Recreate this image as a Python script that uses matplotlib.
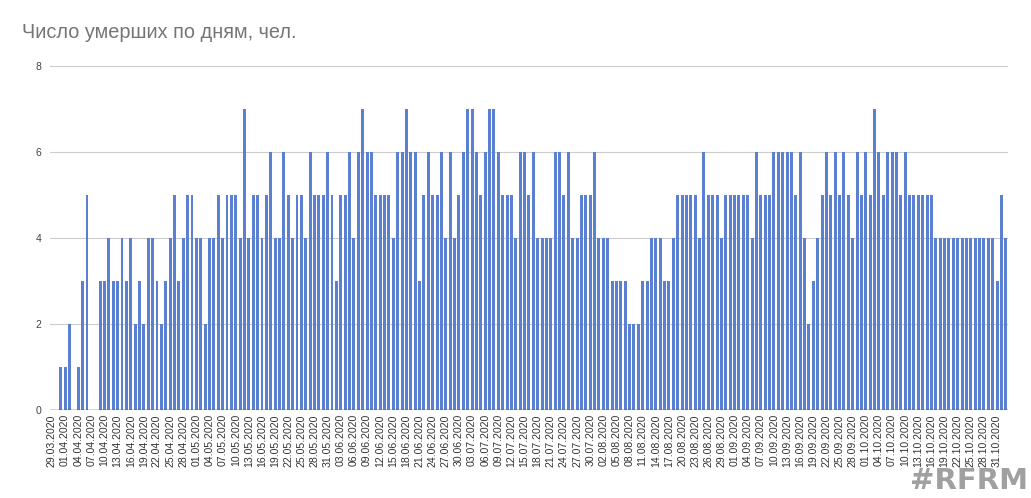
import matplotlib
matplotlib.use("Agg")
import matplotlib.pyplot as plt
import numpy as np
import datetime as dt

plt.rcParams['font.family'] = ['Liberation Sans', 'DejaVu Sans']

start = dt.date(2020, 3, 29)
n_days = 219
dates = [start + dt.timedelta(days=i) for i in range(n_days)]
date_labels = [d.strftime("%d.%m.%Y") for d in dates]

deaths = [
    0, 0, 1, 1, 2, 0, 1, 3, 5, 0, 0,            # 29.03 - 08.04
    3, 3, 4, 3, 3, 4, 3, 4, 2, 3,               # 09.04 - 18.04
    2, 4, 4, 3, 2, 3, 4, 5, 3, 4,               # 19.04 - 28.04
    5, 5, 4, 4, 2, 4, 4, 5, 4, 5,               # 29.04 - 08.05
    5, 5, 4, 7, 4, 5, 5, 4, 5, 6,               # 09.05 - 18.05
    4, 4, 6, 5, 4, 5, 5, 4, 6, 5,               # 19.05 - 28.05
    5, 5, 6, 5, 3, 5, 5, 6, 4, 6,               # 29.05 - 07.06
    7, 6, 6, 5, 5, 5, 5, 4, 6, 6,               # 08.06 - 17.06
    7, 6, 6, 3, 5, 6, 5, 5, 6, 4,               # 18.06 - 27.06
    6, 4, 5, 6, 7, 7, 6, 5, 6, 7,               # 28.06 - 07.07
    7, 6, 5, 5, 5, 4, 6, 6, 5, 6,               # 08.07 - 17.07
    4, 4, 4, 4, 6, 6, 5, 6, 4, 4,               # 18.07 - 27.07
    5, 5, 5, 6, 4, 4, 4, 3, 3, 3,               # 28.07 - 06.08
    3, 2, 2, 2, 3, 3, 4, 4, 4, 3,               # 07.08 - 16.08
    3, 4, 5, 5, 5, 5, 5, 4, 6, 5,               # 17.08 - 26.08
    5, 5, 4, 5, 5, 5, 5, 5, 5, 4,               # 27.08 - 05.09
    6, 5, 5, 5, 6, 6, 6, 6, 6, 5,               # 06.09 - 15.09
    6, 4, 2, 3, 4, 5, 6, 5, 6, 5,               # 16.09 - 25.09
    6, 5, 4, 6, 5, 6, 5, 7, 6, 5,               # 26.09 - 05.10
    6, 6, 6, 5, 6, 5, 5, 5, 5, 5,               # 06.10 - 15.10
    5, 4, 4, 4, 4, 4, 4, 4, 4, 4,               # 16.10 - 25.10
    4, 4, 4, 4, 4, 3, 5, 4,                     # 26.10 - 02.11
]

y_ticks = [0, 2, 4, 6, 8]
title = "Число умерших по дням, чел."
watermark = "#RFRM"

fig = plt.figure(figsize=(10.31, 4.98), dpi=100)
ax = fig.add_axes([0.0483, 0.1767, 0.9294, 0.6908])

x = np.arange(len(deaths))
ax.bar(x, deaths, width=0.68, color='#5b80d2', zorder=3)

ax.set_xlim(-0.5, len(deaths) - 0.5)
ax.set_ylim(0, 8)
ax.set_yticks(y_ticks)
ax.set_yticklabels([str(v) for v in y_ticks], fontsize=7.5, color='#444444')
ax.yaxis.grid(True, color='#cccccc', linewidth=0.8, zorder=0)
ax.axhline(0, color='#333333', linewidth=1.0, zorder=4)

ax.set_xticks(x[::3])
ax.set_xticklabels(date_labels[::3], rotation=90, fontsize=7.6, color='#333333')
ax.tick_params(axis='both', length=0, pad=3)
ax.tick_params(axis='y', pad=6)

for s in ax.spines.values():
    s.set_visible(False)

fig.text(22 / 1031, 1 - 33 / 498, title, fontsize=14.3, color='#757575', va='center', ha='left')
fig.text(1028 / 1031, 3 / 498, watermark, fontsize=21, fontweight='bold', color='#a0a0a0',
         family=['DejaVu Sans'], ha='right', va='bottom')

fig.savefig("out.png", dpi=100)
